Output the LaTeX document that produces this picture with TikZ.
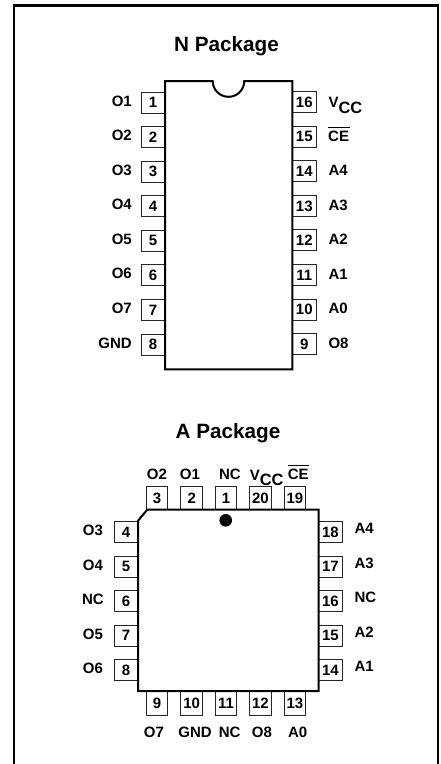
\documentclass[tikz,border=0pt]{standalone}
\usepackage{fontspec}
\setmainfont{Liberation Sans}
\newcommand{\vccmark}{V{\fontsize{16.4}{16.4}\selectfont\raisebox{-5.3pt}{CC}}}
\newcommand{\cemark}{\rlap{\smash{\rule[13.2pt]{21.5pt}{0.9pt}}}CE}
\tikzset{
  chipline/.style={draw=black,line width=2pt,fill=white,line join=miter},
  frameline/.style={draw=black,line width=2.5pt},
  pinbox/.style={draw=black!85,line width=1pt,fill=white,rectangle,inner sep=0pt,font=\bfseries\fontsize{15}{15}\selectfont},
  vpin/.style={pinbox,minimum width=21.5pt,minimum height=24pt},
  hpin/.style={pinbox,minimum width=24pt,minimum height=21pt},
  lab/.style={inner sep=0pt,font=\bfseries\fontsize{15}{15}\selectfont},
  title/.style={inner sep=0pt,font=\bfseries\fontsize{20.7}{20.7}\selectfont}
}
\begin{document}
\begin{tikzpicture}[x=1pt,y=-1pt]
\useasboundingbox (0,0) rectangle (440,764);
\draw[frameline] (13.8,766) -- (13.8,5.5) -- (438,5.5) -- (438,766);
% N package
\node[title] (ntitle) at (226.5,46.5) {N Package};
\foreach \n/\l [count=\i from 0] in {1/O1,2/O2,3/O3,4/O4,5/O5,6/O6,7/O7,8/GND}{
  \pgfmathsetmacro{\yy}{102.7+34.55*\i}
  \node[hpin] (np\n) at (153,\yy) {\n};
  \node[lab,anchor=east] (nl\n) at (132,\yy-1.7) {\l};
}
\foreach \n/\l [count=\i from 0] in {16/,15/,14/A4,13/A3,12/A2,11/A1,10/A0,9/O8}{
  \pgfmathsetmacro{\yy}{102.2+34.55*\i}
  \node[hpin] (np\n) at (304.3,\yy) {\n};
  \ifx\l\empty\else
  \node[lab,anchor=west] (nl\n) at (328.3,\yy-0.8) {\l};
  \fi
}
\node[lab,anchor=base west] (nvcc) at (328.3,107.7) {\vccmark};
\node[lab,anchor=base west] (nce) at (328,141) {\cemark};
\draw[chipline] (165,81) -- (212.7,81) arc[start angle=180,end angle=0,radius=15.8] -- (292.3,81) -- (292.3,369.3) -- (165,369.3) -- cycle;
% A package
\node[title] (atitle) at (228,433) {A Package};
\foreach \n/\l/\xx in {3/O2/157,2/O1/191.7,1/NC/226,20//260.4,19//295}{
  \node[vpin] (ap\n) at (\xx,498.5) {\n};
}
\node[lab] (al3) at (157,474) {O2};
\node[lab] (al2) at (190,474) {O1};
\node[lab] (al1) at (230,474) {NC};
\node[lab,anchor=base west] (al20) at (249.7,480) {\vccmark};
\node[lab,anchor=base west] (al19) at (287.6,479.5) {\cemark};
\foreach \n/\l/\xx/\lx in {9/O7/157/154,10/GND/191.7/195,11/NC/226/229.7,12/O8/260.4/262,13/A0/295/297.7}{
  \node[vpin] (ap\n) at (\xx,703) {\n};
  \node[lab] (al\n) at (\lx,732) {\l};
}
\foreach \n/\l [count=\i from 0] in {4/O3,5/O4,6/NC,7/O5,8/O6}{
  \pgfmathsetmacro{\yy}{532+34.5*\i}
  \node[hpin] (ap\n) at (126,\yy) {\n};
  \node[lab] (al\n) at (93,\yy-1.5) {\l};
}
\foreach \n/\l [count=\i from 0] in {18/A4,17/A3,16/NC,15/A2,14/A1}{
  \pgfmathsetmacro{\yy}{532+34.5*\i}
  \node[hpin] (ap\n) at (330.5,\yy) {\n};
  \node[lab,anchor=west] (al\n) at (354.3,\yy-3.5) {\l};
}
\draw[chipline] (138,520.7) -- (147.3,509.7) -- (318.7,509.7) -- (318.7,691) -- (138,691) -- cycle;
\fill[black] (225.7,520.3) circle[radius=6.3];
\end{tikzpicture}
\end{document}
